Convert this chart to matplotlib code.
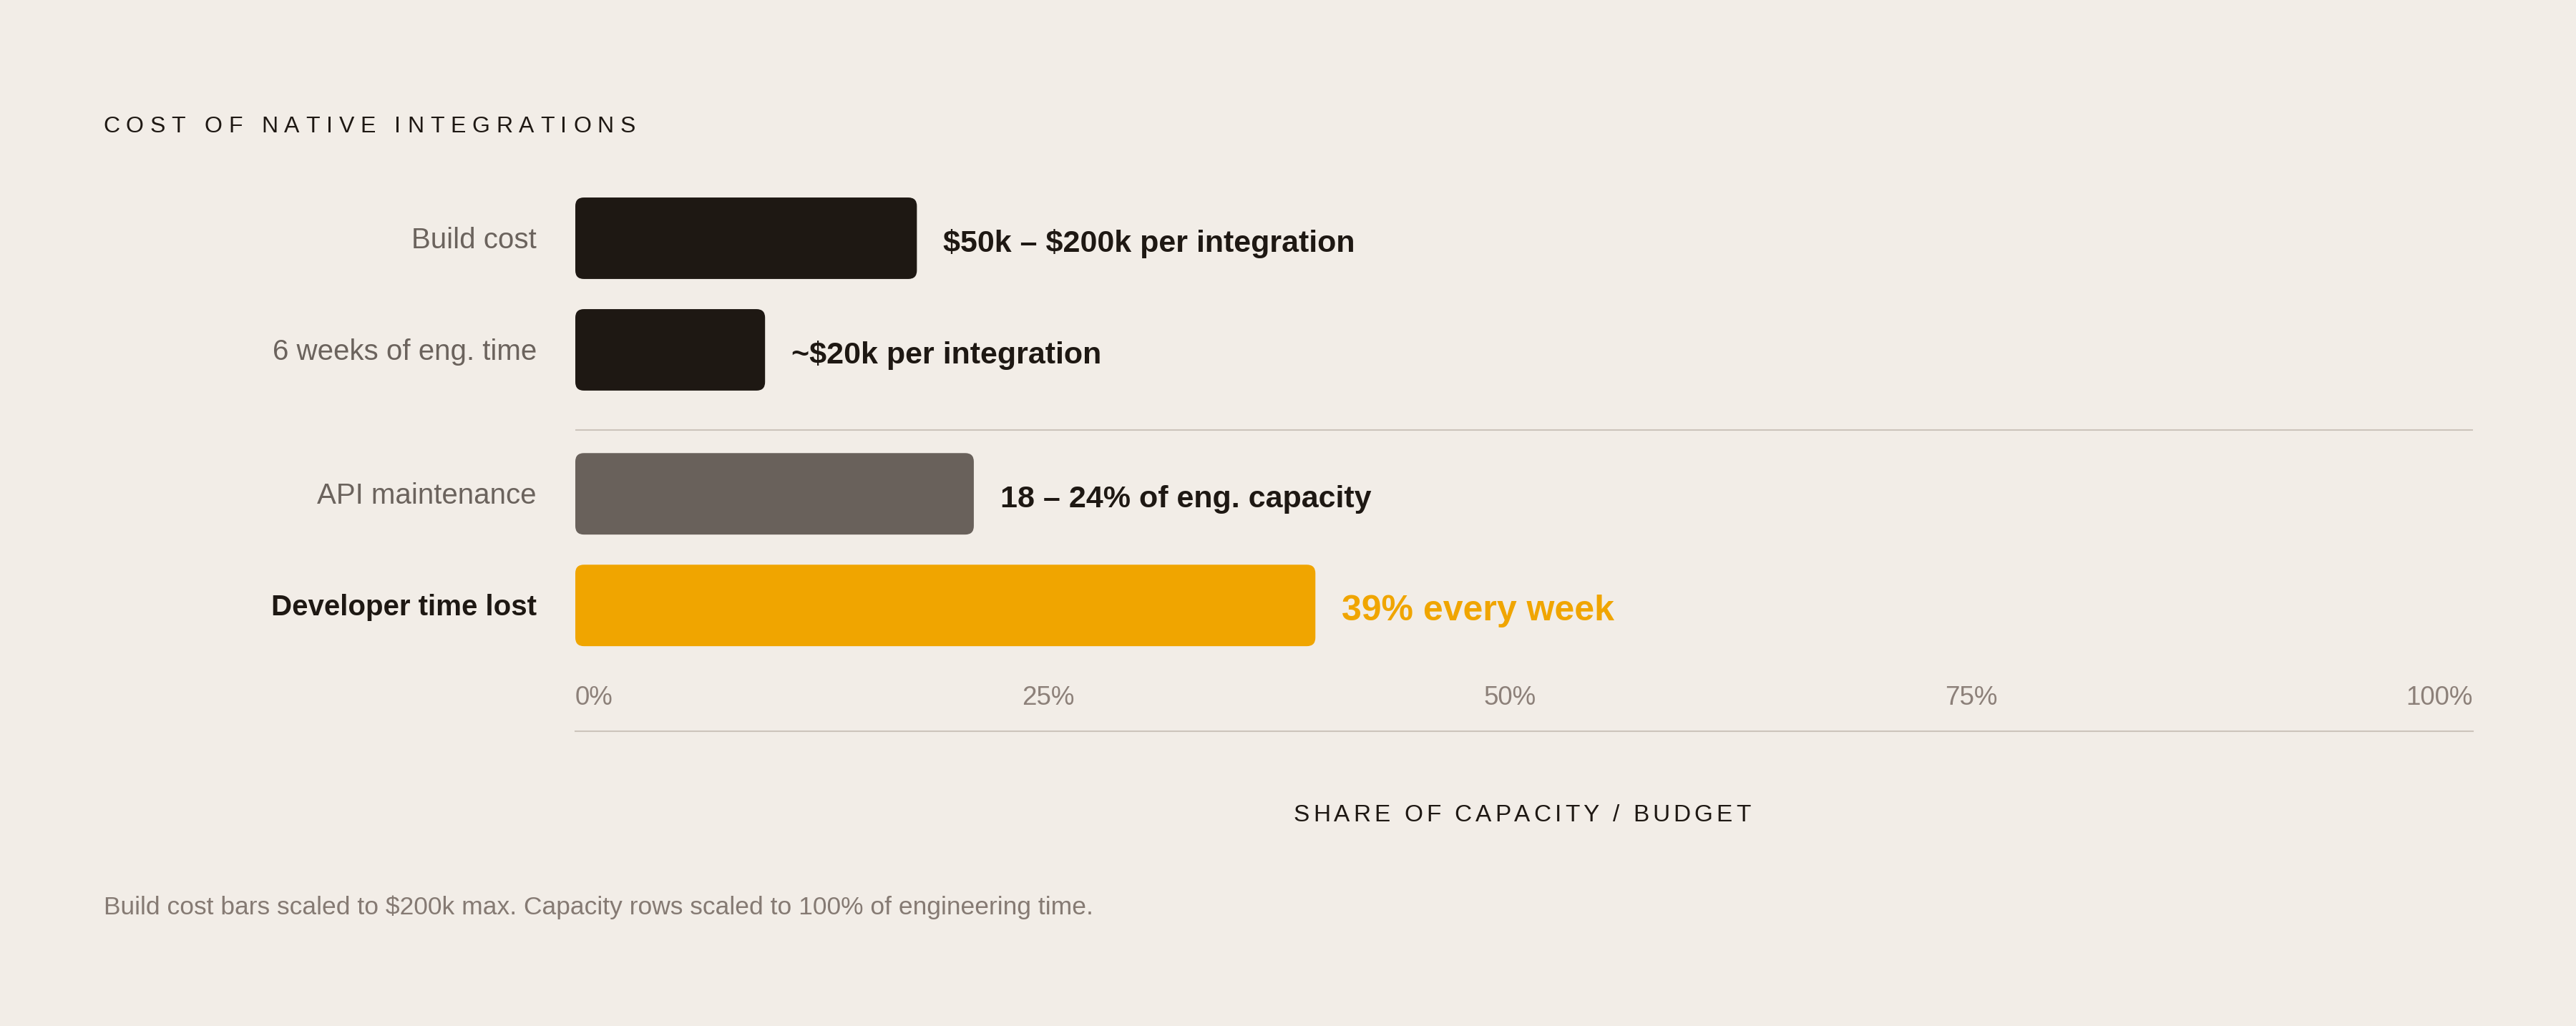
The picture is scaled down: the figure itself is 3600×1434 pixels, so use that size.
import numpy as np
import matplotlib
matplotlib.use("Agg")
import matplotlib.pyplot as plt
from matplotlib.patches import FancyBboxPatch
from matplotlib.font_manager import FontProperties, findfont, get_font

# data
row_labels = ["Build cost", "6 weeks of eng. time", "API maintenance", "Developer time lost"]
row_group = ["build", "build", "capacity", "capacity"]
bar_values = [18, 10, 21, 39]   # % of scale (build rows scaled to $200k)
value_texts = ["$50k – $200k per integration", "~$20k per integration",
               "18 – 24% of eng. capacity", "39% every week"]
x_tick_labels = ["0%", "25%", "50%", "75%", "100%"]

title = "COST OF NATIVE INTEGRATIONS"
x_title = "SHARE OF CAPACITY / BUDGET"
note = "Build cost bars scaled to $200k max. Capacity rows scaled to 100% of engineering time."

# style
BG = "#f2ede7"
DARK = "#1e1813"
GREY_TXT = "#6b635d"
TICK_TXT = "#8c8079"
NOTE_TXT = "#857a73"
RULE = "#ccc4bb"
bar_colors = [DARK, DARK, "#69615b", "#f0a500"]
FONT = "Liberation Sans"

W, H, DPI = 3600, 1434, 100
plt.rcParams["font.family"] = [FONT, "DejaVu Sans"]
plt.rcParams["text.parse_math"] = False

fig = plt.figure(figsize=(W / DPI, H / DPI), dpi=DPI, facecolor=BG)

# axes placed in pixel units (image y measured from top)
ax_l, ax_r, ax_t, ax_b = 804, 3456, 250, 1022
ax = fig.add_axes([ax_l / W, 1 - ax_b / H, (ax_r - ax_l) / W, (ax_b - ax_t) / H])
ax.set_facecolor("none")

pos = np.arange(len(row_labels)) + 0.29 * (np.array(row_group) == "capacity")
bar_h = 0.73

bars = ax.barh(pos, bar_values, height=bar_h, color=bar_colors)
ax.set_xlim(0, 100)
ax.set_ylim(4.417, -0.532)

# swap plain rectangles for rounded ones
xu = 100 / (ax_r - ax_l)
yu = (4.417 + 0.532) / (ax_b - ax_t)
radius = 12
for b in bars:
    x0, y0 = b.get_x(), b.get_y()
    w, h = b.get_width(), b.get_height()
    p = FancyBboxPatch((x0, y0), w, h,
                       boxstyle=f"round,pad=0,rounding_size={radius * xu}",
                       mutation_aspect=yu / xu,
                       facecolor=b.get_facecolor(), edgecolor="none")
    b.remove()
    ax.add_patch(p)

# group separator
ax.axhline(1.72, color=RULE, lw=1.5)

# row labels and value labels
for i, (lab, val, txt) in enumerate(zip(row_labels, bar_values, value_texts)):
    last = i == len(row_labels) - 1
    ax.annotate(lab, xy=(0, pos[i]), xytext=(-38.9, -10.1), textcoords="offset points",
                ha="right", va="baseline", fontsize=29,
                color=DARK if last else GREY_TXT,
                fontweight="bold" if last else "normal")
    ax.annotate(txt, xy=(val, pos[i]), xytext=(26.6, -14.9 if last else -13.6),
                textcoords="offset points", ha="left", va="baseline",
                fontsize=36 if last else 31, fontweight="bold",
                color=bar_colors[i] if last else DARK)

# axis
for s in ["top", "left", "right"]:
    ax.spines[s].set_visible(False)
ax.spines["bottom"].set_color(RULE)
ax.spines["bottom"].set_linewidth(1.5)
ax.set_yticks([])
ax.set_xticks([])

# scale labels spread edge to edge with equal gaps between them
tick_prop = FontProperties(family=FONT, size=26.5)
tick_font = get_font(findfont(tick_prop))
tick_font.set_size(26.5, DPI)
tick_w = []
for s in x_tick_labels:
    tick_font.set_text(s, 0.0)
    tick_w.append(tick_font.get_width_height()[0] / 64)
gap = ((ax_r - ax_l) - sum(tick_w)) / (len(x_tick_labels) - 1)
x_px = 0.0
for s, w in zip(x_tick_labels, tick_w):
    ax.annotate(s, xy=(x_px * xu, 0), xycoords=("data", "axes fraction"),
                xytext=(0, 26.6), textcoords="offset points",
                ha="left", va="baseline", fontproperties=tick_prop, color=TICK_TXT)
    x_px += w + gap


def tracked(x_px, y_px, s, size, track_em, color, ha="left"):
    # letter-spaced text, one glyph at a time
    prop = FontProperties(family=FONT, size=size)
    font = get_font(findfont(prop))
    font.set_size(size, DPI)
    adv = [font.load_char(ord(c)).linearHoriAdvance / 65536 for c in s]
    tr = track_em * size * DPI / 72
    total = sum(adv) + tr * (len(s) - 1)
    x = x_px - total / 2 if ha == "center" else x_px
    for c, a in zip(s, adv):
        if c != " ":
            fig.text(x / W, 1 - y_px / H, c, fontproperties=prop, color=color,
                     ha="left", va="baseline")
        x += a + tr


tracked(144, 185, title, 23, 0.275, DARK)
tracked((ax_l + ax_r) / 2 - 3, 1148, x_title, 24, 0.15, DARK, ha="center")

fig.text(145 / W, 1 - 1278 / H, note, fontsize=25.5, color=NOTE_TXT, va="baseline")

fig.savefig("out.png", dpi=DPI, facecolor=BG)
